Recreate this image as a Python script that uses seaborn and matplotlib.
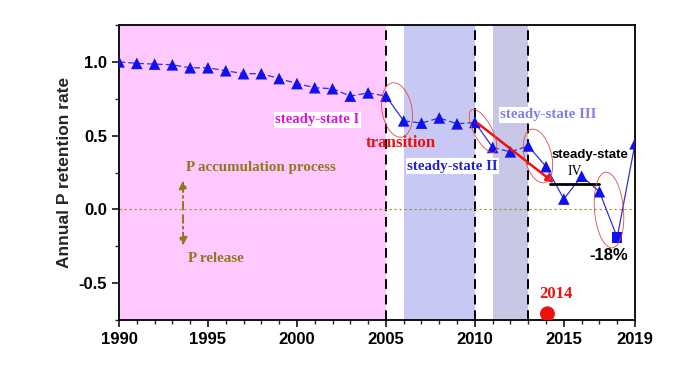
import numpy as np
import pandas as pd
import matplotlib
matplotlib.use("Agg")
import matplotlib.pyplot as plt
from matplotlib.patches import Ellipse
import seaborn as sns

# ---- data ----
years = list(range(1990, 2020))
retention = [1.00, 0.99, 0.985, 0.98, 0.96, 0.96, 0.94, 0.92, 0.92, 0.887,
             0.853, 0.825, 0.818, 0.768, 0.79, 0.768,
             0.60, 0.585, 0.62, 0.58, 0.59,
             0.42, 0.39, 0.43,
             0.29, 0.07, 0.225, 0.12, -0.19, 0.445]
dashed_spans = [(1990, 2005), (2006, 2010), (2011, 2013)]
solid_spans = [(2005, 2006), (2010, 2011), (2013, 2019)]
square_year = 2018
xticks = [1990, 1995, 2000, 2005, 2010, 2015, 2019]
yticks = [-0.5, 0.0, 0.5, 1.0]
shade_spans = [(1990, 2005, "#FFC8FF"), (2006, 2010, "#C8C8F5"), (2011, 2013, "#C8C8E6")]
vlines = [2005, 2010, 2013]
event_year = [2014.08]
event_value = [-0.708]

df = pd.DataFrame({"year": years, "rate": retention})

sns.set_theme(style="ticks")
plt.rcParams["font.family"] = ["Liberation Sans", "DejaVu Sans"]

fig = plt.figure(figsize=(6.83, 3.68), dpi=100)
ax = fig.add_axes([119 / 683, 48 / 368, 516 / 683, 295 / 368])

for x0, x1, c in shade_spans:
    ax.axvspan(x0, x1, color=c, lw=0, zorder=0)
for v in vlines:
    ax.axvline(v, color="black", lw=1.4, dashes=(5, 3), zorder=1)
ax.axhline(0, color="#A08C30", lw=0.8, dashes=(2, 2.5), zorder=1)

line_c = "#3030E0"
for a, b in dashed_spans:
    sub = df[(df.year >= a) & (df.year <= b)]
    sns.lineplot(data=sub, x="year", y="rate", ax=ax, color=line_c, lw=0.9,
                 linestyle=(0, (5, 2.5)), zorder=2)
for a, b in solid_spans:
    sub = df[(df.year >= a) & (df.year <= b)]
    sns.lineplot(data=sub, x="year", y="rate", ax=ax, color=line_c, lw=0.9,
                 linestyle="-", zorder=2)

tri = df[df.year != square_year]
sq = df[df.year == square_year]
sns.scatterplot(data=tri, x="year", y="rate", ax=ax, marker="^", s=70,
                color="#1010F0", edgecolor="none", zorder=4)
sns.scatterplot(data=sq, x="year", y="rate", ax=ax, marker="s", s=55,
                color="#1010F0", edgecolor="none", zorder=4)
sns.scatterplot(x=event_year, y=event_value, ax=ax, s=115, color="#F01010",
                edgecolor="none", zorder=4)

ax.set_xlim(1990, 2019)
ax.set_ylim(-0.75, 1.25)
ax.set_xticks(xticks)
ax.set_yticks(yticks)
ax.set_xticks(range(1990, 2020), minor=True)
ax.set_yticks(np.arange(-0.75, 1.26, 0.25), minor=True)
ax.set_yticklabels(["-0.5", "0.0", "0.5", "1.0"])
ax.tick_params(which="major", direction="out", length=5, width=1.1,
               labelsize=12, colors="black")
ax.tick_params(which="minor", direction="out", length=3, width=1.0)
for lab in ax.get_xticklabels() + ax.get_yticklabels():
    lab.set_fontweight("bold")
for s in ax.spines.values():
    s.set_visible(True)
    s.set_linewidth(1.3)
    s.set_color("black")
ax.set_xlabel("")
ax.set_ylabel("Annual P retention rate", fontsize=12.5, fontweight="bold",
              labelpad=5)

# ---- annotations ----
serif = ["Liberation Serif", "DejaVu Serif"]
wbox = dict(facecolor="white", edgecolor="none", pad=1.0)
ax.text(2001.15, 0.607, "steady-state I", color="#E010E0", fontsize=10.6,
        fontweight="bold", family=serif, ha="center", va="center", bbox=wbox, zorder=5)
ax.text(2005.84, 0.45, "transition", color="#F01010", fontsize=12.2,
        fontweight="bold", family=serif, ha="center", va="center", zorder=5)
ax.text(2008.76, 0.294, "steady-state II", color="#2020D0", fontsize=10.7,
        fontweight="bold", family=serif, ha="center", va="center", bbox=wbox, zorder=5)
ax.text(2014.13, 0.64, "steady-state III", color="#8080E8", fontsize=10.7,
        fontweight="bold", family=serif, ha="center", va="center", bbox=wbox, zorder=5)
ax.text(2016.46, 0.37, "steady-state", color="black", fontsize=9.5,
        fontweight="bold", ha="center", va="center", zorder=5)
ax.text(2015.6, 0.255, "IV", color="black", fontsize=10, family=serif,
        ha="center", va="center", zorder=5)
ax.text(2017.53, -0.31, "-18%", color="black", fontsize=12,
        fontweight="bold", ha="center", va="center", zorder=5)
olive = "#8C7A1E"
ax.text(1993.75, 0.287, "P accumulation process", color=olive, fontsize=10.8,
        fontweight="bold", family=serif, ha="left", va="center", zorder=5)
ax.text(1993.85, -0.335, "P release", color=olive, fontsize=10.8,
        fontweight="bold", family=serif, ha="left", va="center", zorder=5)
ax.annotate("", xy=(1993.6, 0.215), xytext=(1993.6, -0.02),
            arrowprops=dict(arrowstyle="-|>", color=olive, lw=1.4,
                            linestyle=(0, (4, 2, 1, 2)), mutation_scale=12), zorder=5)
ax.annotate("", xy=(1993.6, -0.265), xytext=(1993.6, -0.02),
            arrowprops=dict(arrowstyle="-|>", color=olive, lw=1.4,
                            linestyle=(0, (4, 2, 1, 2)), mutation_scale=12), zorder=5)
ax.text(2014.55, -0.573, "2014", color="#F01010", fontsize=12,
        fontweight="bold", family=serif, ha="center", va="center", zorder=5)

ax.annotate("", xy=(2014.45, 0.18), xytext=(2010.15, 0.585),
            arrowprops=dict(arrowstyle="-|>", color="#F01010", lw=1.8,
                            mutation_scale=11, shrinkA=0, shrinkB=0), zorder=5)
ax.plot([2014.2, 2017.0], [0.17, 0.17], color="black", lw=2.0, zorder=3)

# ellipses in pixel space (image coords, y down)
H = 368
ell = [((397, 110), 55, 30, 100), ((483, 131), 48, 18, 118),
       ((538, 156), 55, 27, 104), ((609, 210), 76, 29, 95)]
for (cx, cy), w, h, ang in ell:
    e = Ellipse((cx, H - cy), w, h, angle=ang, transform=None, fill=False,
                edgecolor="#E04848", lw=0.6, zorder=6)
    fig.patches.append(e)
    e.set_figure(fig)

fig.savefig("out.png", dpi=100)
